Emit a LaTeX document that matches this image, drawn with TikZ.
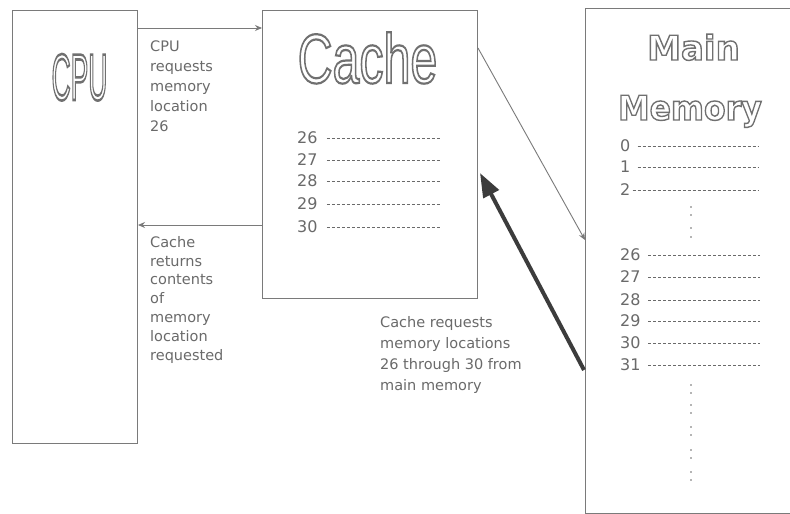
\documentclass[tikz,border=0pt]{standalone}
\usepackage{fontspec}
\setmainfont{DejaVu Sans}
\newfontfamily\arialfont{Liberation Sans}
\usetikzlibrary{arrows.meta,calc}
\definecolor{boxline}{HTML}{7A7A7A}
\definecolor{txt}{HTML}{6A6A6A}
\definecolor{outl}{HTML}{707070}
\definecolor{thickcol}{HTML}{3C3C3C}
\tikzset{
  panel/.style={draw=boxline, line width=1pt, inner sep=0, anchor=north west},
  notetext/.style={text=txt, font=\fontsize{14.5}{20}\selectfont, align=left, anchor=north west, inner sep=0},
  numtext/.style={text=txt, font=\fontsize{16}{18}\selectfont, anchor=west, inner sep=0},
  dashline/.style={draw=txt, line width=1pt, dash pattern=on 3pt off 2pt},
  thinarrow/.style={draw=boxline, line width=0.9pt, -{Stealth[length=7pt,width=6pt]}},
  bigarrow/.style={draw=thickcol, line width=4pt, -{Triangle[length=24pt,width=17pt]}},
  tickdot/.style={fill=txt},
  titletext/.style={text=outl, inner sep=0, anchor=base},
}
\newcommand{\hollowtext}[2]{\special{pdf:literal direct 1 Tr #1 w}#2\special{pdf:literal direct 0 Tr 0.4 w}}
\begin{document}
\begin{tikzpicture}[x=1pt,y=-1pt]
\useasboundingbox (0,0) rectangle (790,514);
\fill[white] (0,0) rectangle (790,514);
% boxes
\node[panel, minimum width=125pt, minimum height=433pt] (cpu) at (12,10) {};
\node[panel, minimum width=215pt, minimum height=288pt] (cache) at (262,10) {};
\node[panel, minimum width=230pt, minimum height=505pt] (mem) at (585,8) {};
% titles
\node[titletext, font=\arialfont\fontsize{66}{66}\selectfont] (cputitle) at (79.5,100) {\scalebox{0.4}[1]{\hollowtext{2.6}{CPU}}};
\node[titletext, font=\arialfont\fontsize{70}{70}\selectfont] (cachetitle) at (367.5,83) {\scalebox{0.69}[1]{\hollowtext{2.2}{Cache}}};
\node[titletext, font=\bfseries\fontsize{34}{34}\selectfont] (maintitle) at (693.5,60) {\hollowtext{1.4}{Main}};
\node[titletext, font=\bfseries\fontsize{34}{34}\selectfont] (memtitle) at (690,120) {\scalebox{0.93}[1]{\hollowtext{1.4}{Memory}}};
% labels
\node[notetext] (req) at (150,41) {CPU\\requests\\memory\\location\\26};
\node[notetext, font=\fontsize{14.5}{18.8}\selectfont] (ret) at (150,236) {Cache\\returns\\contents\\of\\memory\\location\\requested};
\node[notetext, font=\fontsize{14.5}{21}\selectfont] (fetch) at (380,316) {Cache requests\\memory locations\\26 through 30 from\\main memory};
% cache rows
\foreach \n/\y in {26/138,27/160,28/181,29/204,30/227}{
  \node[numtext] (c\n) at (297,\y) {\n};
  \draw[dashline] (c\n.east) ++(9,0) -- ++(113,0);
}
% memory rows
\foreach \n/\y in {0/146,1/167}{
  \node[numtext] (m\n) at (620,\y) {\n};
  \draw[dashline] (m\n.east) ++(7,0) -- ++(121,0);
}
\node[numtext] (m2) at (620,190) {2};
\draw[dashline] (m2.east) ++(2,0) -- ++(126,0);
\foreach \n/\y in {26/255,27/277,28/300,29/321,30/343,31/365}{
  \node[numtext] (m\n) at (620,\y) {\n};
  \draw[dashline] (m\n.east) ++(7.5,0) -- ++(112,0);
}
\foreach \y in {207,215,228,237,385,393,405,413,427,435,450,458,472,480}
  \fill[tickdot] (691,\y) circle (0.9pt);
% connectors
\draw[thinarrow] ($(cpu.north east)+(0,18)$) -- ($(cache.north west)+(0,18)$);
\draw[thinarrow] ($(cache.north west)+(0,215)$) -- ($(cpu.north east)+(0,215)$);
\draw[thinarrow] ($(cache.north east)+(0,38)$) -- ($(mem.north west)+(0,232)$);
\draw[bigarrow] ($(mem.north west)+(-1,362)$) -- ($(cache.north east)+(2,163)$);
\end{tikzpicture}
\end{document}
